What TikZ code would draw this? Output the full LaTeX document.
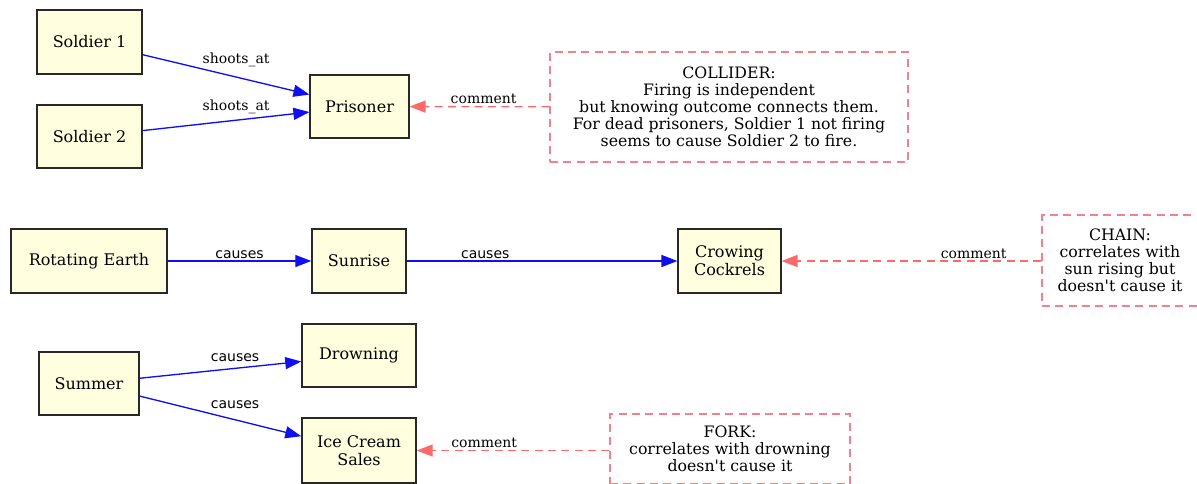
\documentclass[tikz,border=0pt]{standalone}
\usepackage{fontspec}
\setmainfont{DejaVu Serif}
\newfontfamily\lblsans{DejaVu Sans}
\usepackage{tikz}
\usetikzlibrary{arrows.meta}
\tikzset{every picture/.style={line width=0.75pt}}
\definecolor{boxfill}{RGB}{255,255,224}
\definecolor{boxline}{RGB}{40,40,40}
\definecolor{edgeblue}{RGB}{15,15,240}
\definecolor{notered}{RGB}{255,105,105}
\definecolor{noteline}{RGB}{240,130,140}
\tikzset{
  varbox/.style={draw=boxline, line width=1.1pt, fill=boxfill, align=center, inner sep=2pt, font=\fontsize{12}{13.5}\selectfont},
  notebox/.style={draw=noteline, dashed, dash pattern=on 6pt off 4pt, line width=1.1pt, align=center, inner sep=2pt, font=\fontsize{11.8}{12.75}\selectfont},
  causal/.style={draw=edgeblue, line width=1pt, -{Triangle[length=12pt,width=9pt]}},
  noteedge/.style={draw=notered, line width=1pt, dash pattern=on 6pt off 4pt, -{Triangle[length=12pt,width=9pt]}},
  edgelbl/.style={above, inner sep=1.5pt, text=black, font=\fontsize{10.5}{12}\selectfont},
  causelbl/.style={edgelbl, font=\lblsans\fontsize{10.5}{12}\selectfont}
}

\begin{document}
\begin{tikzpicture}[x=0.75pt,y=0.75pt,yscale=-1]
\useasboundingbox (0,0) rectangle (1197,483);

%Collider
\node[varbox, minimum width=78.75pt, minimum height=48pt] (sold1) at (89.5,42) {Soldier 1};
\node[varbox, minimum width=78.75pt, minimum height=47pt] (sold2) at (89.5,136.5) {Soldier 2};
\node[varbox, minimum width=74pt, minimum height=47pt] (prisoner) at (359.5,106.5) {Prisoner};
\node[notebox, minimum width=268.5pt, minimum height=82.5pt] (collider) at (729,107) {COLLIDER:\\Firing is independent\\but knowing outcome connects them.\\For dead prisoners, Soldier 1 not firing\\seems to cause Soldier 2 to fire.};

\draw[causal] (sold1) -- (prisoner) node[edgelbl, pos=0.56, yshift=6pt] {shoots\_at};
\draw[causal] (sold2) -- (prisoner) node[edgelbl, pos=0.56, yshift=3pt] {shoots\_at};
\draw[noteedge] (collider) -- (prisoner) node[edgelbl, pos=0.47] {comment};

%Chain
\node[varbox, minimum width=117pt, minimum height=48pt] (earth) at (89,261) {Rotating Earth};
\node[varbox, minimum width=70.5pt, minimum height=48pt] (sunrise) at (359,261) {Sunrise};
\node[varbox, minimum width=77pt, minimum height=48pt] (cockrels) at (729.5,261) {Crowing\\Cockrels};
\node[notebox, minimum width=117pt, minimum height=68pt] (chain) at (1120,260.5) {CHAIN:\\correlates with\\sun rising but\\doesn\textquotesingle t cause it};

\draw[causal] (earth) -- (sunrise) node[causelbl, midway] {causes};
\draw[causal] (sunrise) -- (cockrels) node[causelbl, pos=0.29] {causes};
\draw[noteedge] (chain.west |- cockrels) -- (cockrels) node[edgelbl, pos=0.26] {comment};

%Fork
\node[varbox, minimum width=75pt, minimum height=47pt] (summer) at (89,383.5) {Summer};
\node[varbox, minimum width=85.5pt, minimum height=47pt] (drowning) at (359,355.5) {Drowning};
\node[varbox, minimum width=85.5pt, minimum height=49pt] (icecream) at (359,450.5) {Ice Cream\\Sales};
\node[notebox, minimum width=180pt, minimum height=52.5pt] (fork) at (730,449) {FORK:\\correlates with drowning\\doesn\textquotesingle t cause it};

\draw[causal] (summer) -- (drowning) node[causelbl, pos=0.59, yshift=3pt] {causes};
\draw[causal] (summer) -- (icecream) node[causelbl, pos=0.59, yshift=6.5pt] {causes};
\draw[noteedge] (fork.west |- icecream) -- (icecream) node[edgelbl, pos=0.65] {comment};

\end{tikzpicture}
\end{document}
